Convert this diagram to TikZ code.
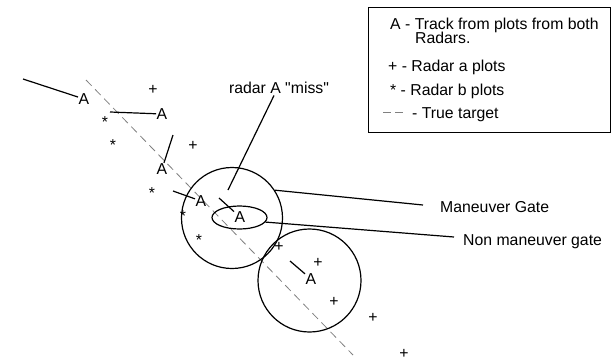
\documentclass[tikz,border=0pt]{standalone}
\usepackage{fontspec}
\newfontfamily\arialfont{Liberation Sans}
\usetikzlibrary{shapes.geometric}
\tikzset{
  trk/.style={inner sep=0.5pt},
  plusmark/.style={inner sep=0pt},
  starmark/.style={inner sep=0pt, yshift=-3.3pt},
  trkline/.style={line width=1.2pt},
  truetgt/.style={gray, line width=0.8pt, dash pattern=on 8pt off 5pt},
  gate/.style={draw, line width=1.2pt, inner sep=0pt},
  lbl/.style={inner sep=0pt, anchor=base west},
}
\begin{document}
\begin{tikzpicture}[x=1pt, y=-1pt, font=\arialfont\fontsize{15.8}{19}\selectfont]
    \useasboundingbox (0,0) rectangle (613,362);
    % True target path
    \coordinate (tgtA) at (86,80);
    \coordinate (tgtB) at (353,355);
    \draw[truetgt] (tgtA) -- (tgtB);
    % Gates
    \node[gate, circle, minimum size=101pt] (mgate) at (232,218) {};
    \node[gate, ellipse, minimum width=55pt, minimum height=23pt] (ngate) at (239.5,217.5) {};
    \node[gate, circle, minimum size=103pt] (nextgate) at (309.5,280.5) {};
    % Tracks
    \coordinate (t1) at (23,79);
    \coordinate (t2) at (110,112);
    \coordinate (t3) at (173,135);
    \coordinate (t4) at (173,191);
    \coordinate (t5) at (219,198);
    \coordinate (t6) at (290,261);
    \node[trk] (a1) at (84,99) {A};
    \node[trk] (a2) at (162,114) {A};
    \node[trk] (a3) at (162,169) {A};
    \node[trk] (a4) at (201,201) {A};
    \node[trk] (a5) at (240,217) {A};
    \node[trk] (a6) at (311,279) {A};
    \foreach \i in {1,...,6}
        \draw[trkline] (t\i) -- (a\i);
    % Radar a plots
    \foreach \p [count=\i] in {(153,90),(193,146),(279,247),(318,263),(334,302),(373,318),(404,354)}
        \node[plusmark] (pa\i) at \p {+};
    % Radar b plots
    \foreach \p [count=\i] in {(105,119),(113,142),(152,190),(183,213),(199,237)}
        \node[starmark] (pb\i) at \p {*};
    % Labels
    \node[inner sep=0pt] (misstxt) at (279,87.5) {radar A "miss"};
    \coordinate (missend) at (228,190);
    \draw[trkline] ([xshift=-5pt,yshift=-2pt]misstxt.south) -- (missend);
    \node[lbl] (mtext) at (440,212.5) {Maneuver Gate};
    \coordinate (mend) at (423,205);
    \draw[trkline] (mgate.33) -- (mend);
    \node[lbl] (ntext) at (463,245.5) {Non maneuver gate};
    \coordinate (nend) at (454,237);
    \draw[trkline] (ngate.-10) -- (nend);
    % Legend
    \draw[line width=1pt] (368,7) rectangle (610,132);
    \node[lbl] (leg1) at (390,29) {A - Track from plots from both};
    \node[lbl] (leg1b) at (415,43.5) {Radars.};
    \node[lbl] (leg2) at (388,71.5) {+ - Radar a plots};
    \node[lbl] (leg3) at (390,95.5) {* - Radar b plots};
    \coordinate (dashA) at (383,112);
    \coordinate (dashB) at (403,112);
    \draw[gray, line width=0.8pt, dash pattern=on 8pt off 4pt] (dashA) -- (dashB);
    \node[lbl] (leg4) at (412,118.5) {- True target};
\end{tikzpicture}
\end{document}
